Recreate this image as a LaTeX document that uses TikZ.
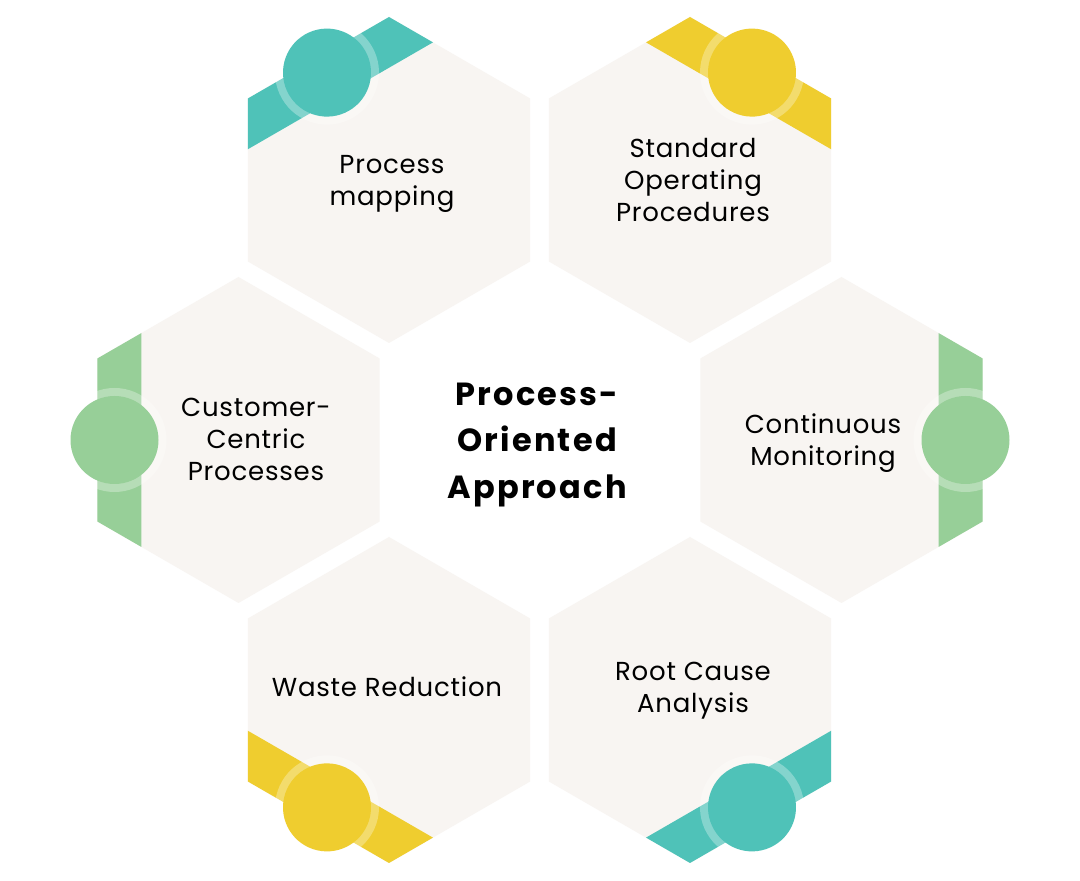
\documentclass[tikz,border=0pt]{standalone}
\usepackage{fontspec}
\setmainfont{Poppins}
\definecolor{tealc}{HTML}{4FC2B8}
\definecolor{yellowc}{HTML}{EFCD2F}
\definecolor{greenc}{HTML}{97CF98}
\definecolor{hexfill}{HTML}{F8F5F2}
\tikzset{
  lbl/.style={align=center, text=black, inner sep=0pt, font=\fontsize{26}{32}\selectfont\addfontfeature{LetterSpace=3}},
  titlelbl/.style={align=center, text=black, inner sep=0pt, font=\fontsize{32}{46.5}\selectfont\bfseries\addfontfeature{LetterSpace=7}},
}
\begin{document}
\begin{tikzpicture}[x=1pt,y=1pt]
\useasboundingbox (0,0) rectangle (1080,881);
\fill[white] (0,0) rectangle (1080,881);
\def\R{163}
\foreach \cx/\cy/\ang/\col in {389/701/120/tealc, 690/701/60/yellowc, 238.5/441/180/greenc, 841.5/441/0/greenc, 389/181/240/yellowc, 690/181/300/tealc} {
  \begin{scope}[shift={(\cx,\cy)}, rotate=\ang]
    \fill[hexfill] (30:\R) -- (90:\R) -- (150:\R) -- (210:\R) -- (270:\R) -- (330:\R) -- cycle;
    \begin{scope}
      \clip (97.2,-200) rectangle (200,200);
      \fill[\col] (30:\R) -- (90:\R) -- (150:\R) -- (210:\R) -- (270:\R) -- (330:\R) -- cycle;
    \end{scope}
    \fill[white, fill opacity=0.3] (124,0) circle (52);
    \fill[\col] (124,0) circle (44);
  \end{scope}
}
\node[lbl] (pm) at (392,697) {Process\\mapping};
\node[lbl] (sop) at (693,701) {Standard\\Operating\\Procedures};
\node[lbl] (ccp) at (256,442) {Customer-\\Centric\\Processes};
\node[lbl] (cm) at (823,438) {Continuous\\Monitoring};
\node[lbl] (wr) at (387,194) {Waste Reduction};
\node[lbl] (rca) at (693,190) {Root Cause\\Analysis};
\node[titlelbl] (poa) at (537,436) {Process-\\Oriented\\Approach};
\end{tikzpicture}
\end{document}
